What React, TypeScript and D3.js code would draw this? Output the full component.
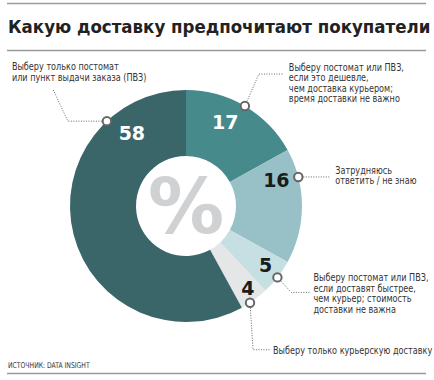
import React from "react";
import * as d3 from "d3";

const categories = [
  "Выберу постомат или ПВЗ, если это дешевле, чем доставка курьером; время доставки не важно",
  "Затрудняюсь ответить / не знаю",
  "Выберу постомат или ПВЗ, если доставят быстрее, чем курьер; стоимость доставки не важна",
  "Выберу только курьерскую доставку",
  "Выберу только постомат или пункт выдачи заказа (ПВЗ)",
];
const values = [17, 16, 5, 4, 58];
const labelLines = [
  ["Выберу постомат или ПВЗ,", "если это дешевле,", "чем доставка курьером;", "время доставки не важно"],
  ["Затрудняюсь", "ответить / не знаю"],
  ["Выберу постомат или ПВЗ,", "если доставят быстрее,", "чем курьер; стоимость", "доставки не важна"],
  ["Выберу только курьерскую доставку"],
  ["Выберу только постомат", "или пункт выдачи заказа (ПВЗ)"],
];
const colors = ["#468a8b", "#97c1c7", "#c6dfe2", "#e5e6e8", "#3a6569"];
const numberColors = ["#ffffff", "#1b1b1b", "#1b1b1b", "#1b1b1b", "#ffffff"];
const title = "Какую доставку предпочитают покупатели";
const source = "ИСТОЧНИК: DATA INSIGHT";

// annotation layout (angles in degrees clockwise from top)
const numAngles = [25, 74, 126.5, 143, 323.5];
const numRadii = [93, 94, 99, 103, 91];
const dotAngles = [30.5, 75.5, 128, 146.5, 317];
// leader bends relative to dot, and text anchor
const leaders = [
  { pts: [[14, -32], [38, -32]], tx: 44, ty: -35 },
  { pts: [[32, 0]], tx: 37, ty: -3 },
  { pts: [[14, 15], [33, 15]], tx: 36, ty: 4 },
  { pts: [[3, 47], [21, 47]], tx: 23, ty: 51 },
  { pts: [[-39, 0], [-54, -32]], tx: -95, ty: -51 },
];

const W = 434, H = 380;
const cx = 186, cy = 206, R = 116, r0 = 50;
const labelFont = "'DejaVu Sans Condensed', 'DejaVu Sans', sans-serif";

export default function App() {
  const pie = d3.pie<number>().sort(null).value((d) => d)(values);
  const arc = d3.arc<d3.PieArcDatum<number>>().innerRadius(r0).outerRadius(R);
  const polar = (deg: number, rad: number) => {
    const a = (deg * Math.PI) / 180;
    return [cx + rad * Math.sin(a), cy - rad * Math.cos(a)];
  };
  return (
    <svg width={W} height={H} style={{ position: "absolute", left: 0, top: 0, background: "#fff" }}>
      <line x1={7} x2={426} y1={3.5} y2={3.5} stroke="#9a9a9a" strokeWidth={1.5} />
      <text x={8} y={33} fontFamily="'DejaVu Sans Condensed', 'DejaVu Sans', sans-serif" fontWeight={900} fontSize={18.5}
        fill="#222">{title}</text>
      <line x1={7} x2={426} y1={50.5} y2={50.5} stroke="#9a9a9a" strokeWidth={1.5} />
      <g transform={`translate(${cx},${cy})`}>
        {pie.map((p, i) => (
          <path key={i} d={arc(p) || ""} fill={colors[i]} />
        ))}
      </g>
      <text x={cx} y={cy} dy="0.36em" textAnchor="middle" fontFamily="'DejaVu Sans', sans-serif"
        fontWeight={700} fontSize={76} fill="#d0d1d3">%</text>
      {values.map((v, i) => {
        const [x, y] = polar(numAngles[i], numRadii[i]);
        return (
          <text key={"n" + i} x={x} y={y} dy="0.36em" textAnchor="middle"
            fontFamily="'DejaVu Sans', sans-serif" fontWeight={700} fontSize={19} fill={numberColors[i]}>{v}</text>
        );
      })}
      {values.map((v, i) => {
        const [dx, dy] = polar(dotAngles[i], R);
        const L = leaders[i];
        const pts = [[dx, dy], ...L.pts.map(([a, b]) => [dx + a, dy + b])];
        const line = d3.line()(pts as [number, number][]) || "";
        const tx = dx + L.tx, ty = dy + L.ty;
        return (
          <g key={"l" + i}>
            <path d={line} fill="none" stroke="#666" strokeWidth={1} strokeDasharray="1,1.5" />
            <circle cx={dx} cy={dy} r={4.2} fill="#fff" stroke="#666" strokeWidth={2} />
            <g transform={`translate(${tx},${ty}) scale(0.86,1)`}>
              <text x={0} y={0} fontFamily={labelFont} fontSize={10.5} fill="#333">
                {labelLines[i].map((s, j) => (
                  <tspan key={j} x={0} dy={j === 0 ? 0 : 10.4}>{s}</tspan>
                ))}
              </text>
            </g>
          </g>
        );
      })}
      <g transform="translate(8,368) scale(0.85,1)">
        <text x={0} y={0} fontFamily={labelFont} fontSize={8} fill="#333">{source}</text>
      </g>
      <line x1={7} x2={426} y1={373.5} y2={373.5} stroke="#9a9a9a" strokeWidth={1.5} />
    </svg>
  );
}
